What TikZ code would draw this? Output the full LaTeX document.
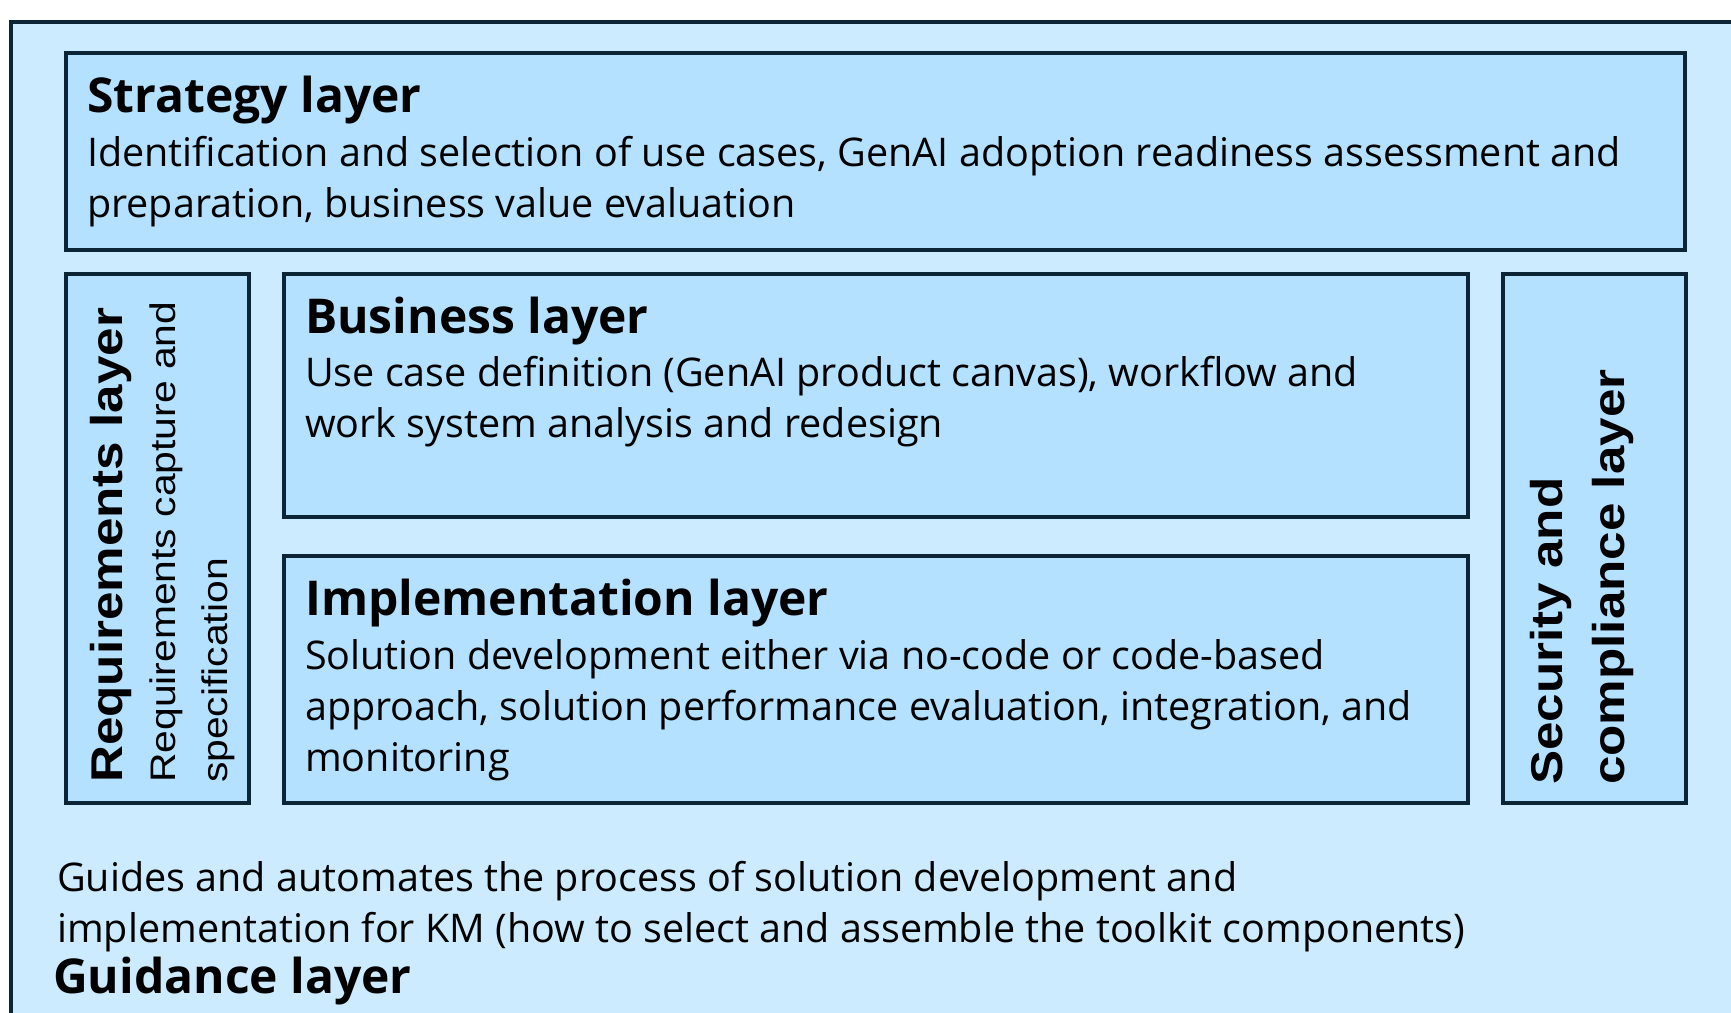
\documentclass[tikz,border=0pt]{standalone}
\usepackage{fontspec}
\setmainfont{Open Sans}
\newfontfamily\sidefont[FakeStretch=1.15]{Liberation Sans}
\definecolor{outerfill}{HTML}{CCEBFF}
\definecolor{innerfill}{HTML}{B3E1FF}
\definecolor{edgeblue}{HTML}{0B2536}
\tikzset{
  layerbox/.style={draw=edgeblue, line width=4pt, fill=innerfill},
  layertitle/.style={anchor=base west, inner sep=0pt, align=left,
    font=\fontsize{48}{60}\selectfont\bfseries},
  layertext/.style={anchor=base west, inner sep=0pt, align=left,
    font=\fontsize{39.5}{51}\selectfont},
  sidetitle/.style={anchor=base west, inner sep=0pt, align=left, rotate=90,
    font=\sidefont\fontsize{44.5}{62}\selectfont\bfseries},
  sidetext/.style={anchor=base west, inner sep=0pt, align=left, rotate=90,
    font=\sidefont\fontsize{35.5}{52}\selectfont},
}
\begin{document}
\begin{tikzpicture}[x=1pt,y=-1pt]
  \useasboundingbox (0,0) rectangle (1731,1012);
  % outer frame runs off the page at right and bottom
  \draw [draw=edgeblue, line width=4pt, fill=outerfill] (11,22) rectangle (1760,1040);

  \draw [layerbox] (66,53) rectangle (1685,250);
  \draw [layerbox] (66,274) rectangle (249,803);
  \draw [layerbox] (284,274) rectangle (1468,517);
  \draw [layerbox] (284,556) rectangle (1468,803);
  \draw [layerbox] (1503,274) rectangle (1686,803);

  % multi-line nodes sit on the baseline of their last line
  \node [layertitle] (strategy) at (87,112) {Strategy layer};
  \node [layertext] (strategytxt) at (87,217)
    {Identification and selection of use cases, GenAI adoption readiness assessment and\\
     preparation, business value evaluation};

  \node [layertitle] (business) at (305,333) {Business layer};
  \node [layertext] (businesstxt) at (305,437)
    {Use case definition (GenAI product canvas), workflow and\\
     work system analysis and redesign};

  \node [layertitle] (impl) at (305,615) {Implementation layer};
  \node [layertext] (impltxt) at (305,771)
    {Solution development either via no-code or code-based\\
     approach, solution performance evaluation, integration, and\\
     monitoring};

  \node [sidetitle] (req) at (122,783) {Requirements layer};
  \node [sidetext] (reqtxt) at (227,783)
    {Requirements capture and\\ specification};

  \node [sidetitle] (security) at (1624,785) {Security and\\ compliance layer};

  \node [layertext] (guidetxt) at (57,942)
    {Guides and automates the process of solution development and\\
     implementation for KM (how to select and assemble the toolkit components)};
  \node [layertitle] (guidance) at (53,993) {Guidance layer};
\end{tikzpicture}
\end{document}
